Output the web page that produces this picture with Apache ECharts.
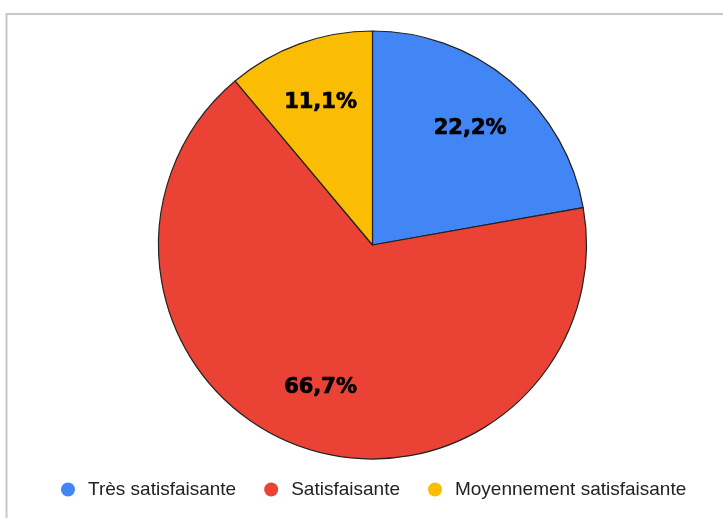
<!DOCTYPE html>
<html>
<head>
<meta charset="utf-8">
<script src="https://cdn.jsdelivr.net/npm/echarts@6/dist/echarts.min.js"></script>
<style>
  html, body { margin: 0; padding: 0; background: #fff; }
  #chart { width: 723px; height: 518px; }
</style>
</head>
<body>
<div id="chart"></div>
<script>
// données
const categories = ['Très satisfaisante', 'Satisfaisante', 'Moyennement satisfaisante'];
const values = [22.2, 66.7, 11.1];
const colors = ['#4285F4', '#EA4335', '#FBBC04'];

const chart = echarts.init(document.getElementById('chart'));

const pieData = categories.map((name, i) => ({
  name,
  value: values[i],
  itemStyle: { color: colors[i] }
}));

const option = {
  animation: false,
  graphic: [
    {
      type: 'rect',
      shape: { x: 6.5, y: 14, width: 900, height: 700 },
      style: { fill: 'none', stroke: '#c8c8c8', lineWidth: 2 },
      silent: true
    }
  ],
  legend: {
    left: 56,
    top: 475,
    icon: 'circle',
    itemWidth: 14,
    itemHeight: 14,
    itemGap: 28,
    itemStyle: { borderWidth: 0 },
    textStyle: {
      fontFamily: 'Liberation Sans, Arial',
      fontSize: 19,
      color: '#222',
      padding: [0, 0, 0, 8]
    },
    data: categories
  },
  series: [
    {
      type: 'pie',
      center: [372.5, 245],
      radius: [0, 214],
      startAngle: 90,
      label: { show: false },
      labelLine: { show: false },
      emphasis: { disabled: true },
      itemStyle: { borderColor: '#222', borderWidth: 1.2 },
      data: pieData
    },
    {
      // couche transparente pour placer les étiquettes plus loin du centre
      type: 'pie',
      center: [372.5, 245],
      radius: [84, 214],
      startAngle: 90,
      silent: true,
      legendHoverLink: false,
      emphasis: { disabled: true },
      itemStyle: { color: 'rgba(0,0,0,0)', borderWidth: 0 },
      label: {
        show: true,
        position: 'inside',
        fontFamily: 'DejaVu Sans',
        fontWeight: 'bold',
        fontSize: 21,
        color: '#000',
        textBorderColor: '#000',
        textBorderWidth: 0.7,
        formatter: (p) => p.percent.toFixed(1).replace('.', ',') + '%'
      },
      labelLine: { show: false },
      data: categories.map((name, i) => ({ name, value: values[i] }))
    }
  ]
};

chart.setOption(option);
</script>
</body>
</html>
